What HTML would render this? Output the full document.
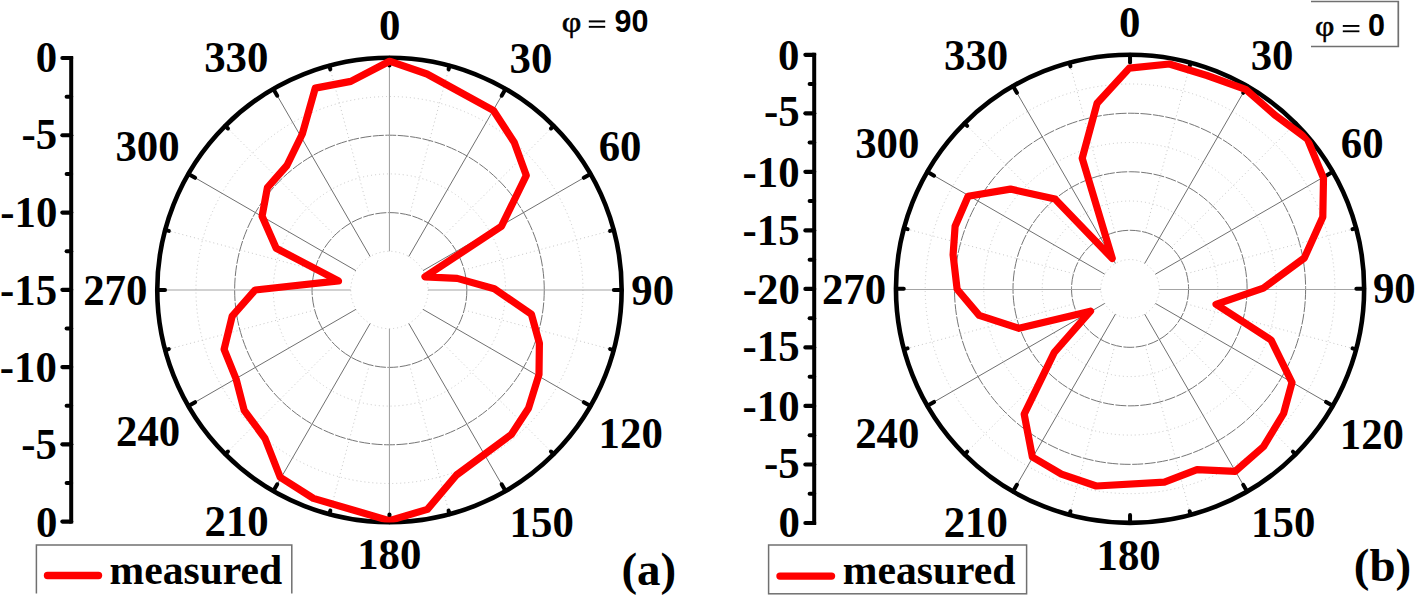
<!DOCTYPE html>
<html><head><meta charset="utf-8"><style>
html,body{margin:0;padding:0;background:#fff;}
svg{display:block;}
.lb{font-family:"Liberation Serif", serif;font-weight:bold;font-size:42.8px;fill:#000;}
.lg{font-family:"Liberation Serif", serif;font-weight:bold;font-size:41.6px;fill:#000;}
.pl{font-family:"Liberation Serif", serif;font-weight:bold;font-size:47px;fill:#000;}
.phi{font-family:"Liberation Serif", serif;font-size:32px;fill:#000;stroke:#000;stroke-width:0.6px;}
.eq{font-family:"Liberation Serif", serif;font-size:33px;fill:#000;}
.sb{font-family:"Liberation Sans", sans-serif;font-weight:bold;font-size:30.5px;fill:#000;}
</style></head><body>
<svg width="1416" height="597" viewBox="0 0 1416 597">
<rect width="1416" height="597" fill="#fff"/>
<circle cx="389.45" cy="290" r="38.7" fill="none" stroke="#c8c8c8" stroke-width="1" stroke-dasharray="1 3"/>
<circle cx="389.45" cy="290" r="77.4" fill="none" stroke="#767676" stroke-width="1" stroke-dasharray="11 1.5"/>
<circle cx="389.45" cy="290" r="116.1" fill="none" stroke="#c8c8c8" stroke-width="1" stroke-dasharray="1 3"/>
<circle cx="389.45" cy="290" r="154.8" fill="none" stroke="#767676" stroke-width="1" stroke-dasharray="11 1.5"/>
<circle cx="389.45" cy="290" r="193.5" fill="none" stroke="#c8c8c8" stroke-width="1" stroke-dasharray="1 3"/>
<line x1="389.45" y1="251.3" x2="389.45" y2="57.8" stroke="#a4a4a4" stroke-width="1.1"/>
<line x1="409.48" y1="215.24" x2="449.55" y2="65.71" stroke="#c8c8c8" stroke-width="1" stroke-dasharray="1 3"/>
<line x1="408.8" y1="256.48" x2="505.55" y2="88.91" stroke="#707070" stroke-width="1"/>
<line x1="444.18" y1="235.27" x2="553.64" y2="125.81" stroke="#c8c8c8" stroke-width="1" stroke-dasharray="1 3"/>
<line x1="422.97" y1="270.65" x2="590.54" y2="173.9" stroke="#707070" stroke-width="1"/>
<line x1="464.21" y1="269.97" x2="613.74" y2="229.9" stroke="#c8c8c8" stroke-width="1" stroke-dasharray="1 3"/>
<line x1="428.15" y1="290" x2="621.65" y2="290" stroke="#a4a4a4" stroke-width="1.1"/>
<line x1="464.21" y1="310.03" x2="613.74" y2="350.1" stroke="#c8c8c8" stroke-width="1" stroke-dasharray="1 3"/>
<line x1="422.97" y1="309.35" x2="590.54" y2="406.1" stroke="#707070" stroke-width="1"/>
<line x1="444.18" y1="344.73" x2="553.64" y2="454.19" stroke="#c8c8c8" stroke-width="1" stroke-dasharray="1 3"/>
<line x1="408.8" y1="323.52" x2="505.55" y2="491.09" stroke="#707070" stroke-width="1"/>
<line x1="409.48" y1="364.76" x2="449.55" y2="514.29" stroke="#c8c8c8" stroke-width="1" stroke-dasharray="1 3"/>
<line x1="389.45" y1="328.7" x2="389.45" y2="522.2" stroke="#a4a4a4" stroke-width="1.1"/>
<line x1="369.42" y1="364.76" x2="329.35" y2="514.29" stroke="#c8c8c8" stroke-width="1" stroke-dasharray="1 3"/>
<line x1="370.1" y1="323.52" x2="273.35" y2="491.09" stroke="#707070" stroke-width="1"/>
<line x1="334.72" y1="344.73" x2="225.26" y2="454.19" stroke="#c8c8c8" stroke-width="1" stroke-dasharray="1 3"/>
<line x1="355.93" y1="309.35" x2="188.36" y2="406.1" stroke="#707070" stroke-width="1"/>
<line x1="314.69" y1="310.03" x2="165.16" y2="350.1" stroke="#c8c8c8" stroke-width="1" stroke-dasharray="1 3"/>
<line x1="350.75" y1="290" x2="157.25" y2="290" stroke="#a4a4a4" stroke-width="1.1"/>
<line x1="314.69" y1="269.97" x2="165.16" y2="229.9" stroke="#c8c8c8" stroke-width="1" stroke-dasharray="1 3"/>
<line x1="355.93" y1="270.65" x2="188.36" y2="173.9" stroke="#707070" stroke-width="1"/>
<line x1="334.72" y1="235.27" x2="225.26" y2="125.81" stroke="#c8c8c8" stroke-width="1" stroke-dasharray="1 3"/>
<line x1="370.1" y1="256.48" x2="273.35" y2="88.91" stroke="#707070" stroke-width="1"/>
<line x1="369.42" y1="215.24" x2="329.35" y2="65.71" stroke="#c8c8c8" stroke-width="1" stroke-dasharray="1 3"/>
<circle cx="389.45" cy="290" r="232.2" fill="none" stroke="#000" stroke-width="4.6"/>
<line x1="389.45" y1="57.8" x2="389.45" y2="65.6" stroke="#000" stroke-width="4" stroke-linecap="round"/>
<line x1="449.55" y1="65.71" x2="448.56" y2="69.38" stroke="#000" stroke-width="4" stroke-linecap="round"/>
<line x1="505.55" y1="88.91" x2="501.65" y2="95.66" stroke="#000" stroke-width="4" stroke-linecap="round"/>
<line x1="553.64" y1="125.81" x2="550.95" y2="128.5" stroke="#000" stroke-width="4" stroke-linecap="round"/>
<line x1="590.54" y1="173.9" x2="583.79" y2="177.8" stroke="#000" stroke-width="4" stroke-linecap="round"/>
<line x1="613.74" y1="229.9" x2="610.07" y2="230.89" stroke="#000" stroke-width="4" stroke-linecap="round"/>
<line x1="621.65" y1="290" x2="613.85" y2="290" stroke="#000" stroke-width="4" stroke-linecap="round"/>
<line x1="613.74" y1="350.1" x2="610.07" y2="349.11" stroke="#000" stroke-width="4" stroke-linecap="round"/>
<line x1="590.54" y1="406.1" x2="583.79" y2="402.2" stroke="#000" stroke-width="4" stroke-linecap="round"/>
<line x1="553.64" y1="454.19" x2="550.95" y2="451.5" stroke="#000" stroke-width="4" stroke-linecap="round"/>
<line x1="505.55" y1="491.09" x2="501.65" y2="484.34" stroke="#000" stroke-width="4" stroke-linecap="round"/>
<line x1="449.55" y1="514.29" x2="448.56" y2="510.62" stroke="#000" stroke-width="4" stroke-linecap="round"/>
<line x1="389.45" y1="522.2" x2="389.45" y2="514.4" stroke="#000" stroke-width="4" stroke-linecap="round"/>
<line x1="329.35" y1="514.29" x2="330.34" y2="510.62" stroke="#000" stroke-width="4" stroke-linecap="round"/>
<line x1="273.35" y1="491.09" x2="277.25" y2="484.34" stroke="#000" stroke-width="4" stroke-linecap="round"/>
<line x1="225.26" y1="454.19" x2="227.95" y2="451.5" stroke="#000" stroke-width="4" stroke-linecap="round"/>
<line x1="188.36" y1="406.1" x2="195.11" y2="402.2" stroke="#000" stroke-width="4" stroke-linecap="round"/>
<line x1="165.16" y1="350.1" x2="168.83" y2="349.11" stroke="#000" stroke-width="4" stroke-linecap="round"/>
<line x1="157.25" y1="290" x2="165.05" y2="290" stroke="#000" stroke-width="4" stroke-linecap="round"/>
<line x1="165.16" y1="229.9" x2="168.83" y2="230.89" stroke="#000" stroke-width="4" stroke-linecap="round"/>
<line x1="188.36" y1="173.9" x2="195.11" y2="177.8" stroke="#000" stroke-width="4" stroke-linecap="round"/>
<line x1="225.26" y1="125.81" x2="227.95" y2="128.5" stroke="#000" stroke-width="4" stroke-linecap="round"/>
<line x1="273.35" y1="88.91" x2="277.25" y2="95.66" stroke="#000" stroke-width="4" stroke-linecap="round"/>
<line x1="329.35" y1="65.71" x2="330.34" y2="69.38" stroke="#000" stroke-width="4" stroke-linecap="round"/>
<clipPath id="clipA"><circle cx="389.45" cy="290" r="232.4"/></clipPath>
<path d="M389.5,61.2 L427,74 L493.3,110.3 L514.3,142.5 L526.3,175.4 L501.5,226.2 L425,276.8 L457.2,278.4 L494.3,288.8 L531.4,314.2 L539.4,343.3 L539,374.5 L528.5,408.2 L511.5,434.3 L456.5,475 L427.4,509.4 L389.3,520.6 L313.4,498.4 L280.2,477.3 L265,438.5 L244.2,410.3 L236.1,379 L224.1,349.3 L232.2,316.1 L255.2,290 L338.5,280.9 L276.2,248.3 L262.1,216.2 L267.4,187.6 L286.9,165.5 L302.3,134 L315.3,88.1 L350.8,81.4 Z" clip-path="url(#clipA)" fill="none" stroke="#ff0000" stroke-width="7.2" stroke-linejoin="round" stroke-linecap="round"/>
<text transform="matrix(1,0,0,1.03,389.8,39.6)" text-anchor="middle" class="lb">0</text>
<text transform="matrix(1,0,0,1.03,531,73.2)" text-anchor="middle" class="lb">30</text>
<text transform="matrix(1,0,0,1.03,620.1,161)" text-anchor="middle" class="lb">60</text>
<text transform="matrix(1,0,0,1.03,652.7,304.8)" text-anchor="middle" class="lb">90</text>
<text transform="matrix(1,0,0,1.03,630.7,448.2)" text-anchor="middle" class="lb">120</text>
<text transform="matrix(1,0,0,1.03,541.7,537)" text-anchor="middle" class="lb">150</text>
<text transform="matrix(1,0,0,1.03,389.3,568.6)" text-anchor="middle" class="lb">180</text>
<text transform="matrix(1,0,0,1.03,236.6,536.2)" text-anchor="middle" class="lb">210</text>
<text transform="matrix(1,0,0,1.03,148.1,446.4)" text-anchor="middle" class="lb">240</text>
<text transform="matrix(1,0,0,1.03,115.3,304.6)" text-anchor="middle" class="lb">270</text>
<text transform="matrix(1,0,0,1.03,147.5,161)" text-anchor="middle" class="lb">300</text>
<text transform="matrix(1,0,0,1.03,236.3,72)" text-anchor="middle" class="lb">330</text>
<line x1="71.2" y1="56" x2="71.2" y2="523.6" stroke="#000" stroke-width="4"/>
<line x1="62.4" y1="58" x2="71.2" y2="58" stroke="#000" stroke-width="4.2" stroke-linecap="round"/>
<text transform="matrix(1,0,0,1.03,57.2,72.2)" text-anchor="end" class="lb">0</text>
<line x1="66.6" y1="96.63" x2="71.2" y2="96.63" stroke="#000" stroke-width="4" stroke-linecap="round"/>
<line x1="62.4" y1="135.27" x2="71.2" y2="135.27" stroke="#000" stroke-width="4.2" stroke-linecap="round"/>
<text transform="matrix(1,0,0,1.03,57.2,149.47)" text-anchor="end" class="lb">-5</text>
<line x1="66.6" y1="173.9" x2="71.2" y2="173.9" stroke="#000" stroke-width="4" stroke-linecap="round"/>
<line x1="62.4" y1="212.53" x2="71.2" y2="212.53" stroke="#000" stroke-width="4.2" stroke-linecap="round"/>
<text transform="matrix(1,0,0,1.03,57.3,226.93)" text-anchor="end" class="lb">-10</text>
<line x1="66.6" y1="251.17" x2="71.2" y2="251.17" stroke="#000" stroke-width="4" stroke-linecap="round"/>
<line x1="62.4" y1="289.8" x2="71.2" y2="289.8" stroke="#000" stroke-width="4.2" stroke-linecap="round"/>
<text transform="matrix(1,0,0,1.03,57.1,304.7)" text-anchor="end" class="lb">-15</text>
<line x1="66.6" y1="328.43" x2="71.2" y2="328.43" stroke="#000" stroke-width="4" stroke-linecap="round"/>
<line x1="62.4" y1="367.07" x2="71.2" y2="367.07" stroke="#000" stroke-width="4.2" stroke-linecap="round"/>
<text transform="matrix(1,0,0,1.03,56.9,382.27)" text-anchor="end" class="lb">-10</text>
<line x1="66.6" y1="405.7" x2="71.2" y2="405.7" stroke="#000" stroke-width="4" stroke-linecap="round"/>
<line x1="62.4" y1="444.33" x2="71.2" y2="444.33" stroke="#000" stroke-width="4.2" stroke-linecap="round"/>
<text transform="matrix(1,0,0,1.03,56.9,459.23)" text-anchor="end" class="lb">-5</text>
<line x1="66.6" y1="482.97" x2="71.2" y2="482.97" stroke="#000" stroke-width="4" stroke-linecap="round"/>
<line x1="62.4" y1="521.6" x2="71.2" y2="521.6" stroke="#000" stroke-width="4.2" stroke-linecap="round"/>
<text transform="matrix(1,0,0,1.03,57.3,536.6)" text-anchor="end" class="lb">0</text>
<circle cx="1130.05" cy="288.8" r="29.26" fill="none" stroke="#c8c8c8" stroke-width="1" stroke-dasharray="1 3"/>
<circle cx="1130.05" cy="288.8" r="58.52" fill="none" stroke="#767676" stroke-width="1" stroke-dasharray="11 1.5"/>
<circle cx="1130.05" cy="288.8" r="87.79" fill="none" stroke="#c8c8c8" stroke-width="1" stroke-dasharray="1 3"/>
<circle cx="1130.05" cy="288.8" r="117.05" fill="none" stroke="#767676" stroke-width="1" stroke-dasharray="11 1.5"/>
<circle cx="1130.05" cy="288.8" r="146.31" fill="none" stroke="#c8c8c8" stroke-width="1" stroke-dasharray="1 3"/>
<circle cx="1130.05" cy="288.8" r="175.57" fill="none" stroke="#767676" stroke-width="1" stroke-dasharray="11 1.5"/>
<circle cx="1130.05" cy="288.8" r="204.84" fill="none" stroke="#c8c8c8" stroke-width="1" stroke-dasharray="1 3"/>
<line x1="1145.2" y1="232.27" x2="1190.64" y2="62.68" stroke="#c8c8c8" stroke-width="1" stroke-dasharray="1 3"/>
<line x1="1144.68" y1="263.46" x2="1247.1" y2="86.06" stroke="#707070" stroke-width="1"/>
<line x1="1171.43" y1="247.42" x2="1295.58" y2="123.27" stroke="#c8c8c8" stroke-width="1" stroke-dasharray="1 3"/>
<line x1="1155.39" y1="274.17" x2="1332.79" y2="171.75" stroke="#707070" stroke-width="1"/>
<line x1="1186.58" y1="273.65" x2="1356.17" y2="228.21" stroke="#c8c8c8" stroke-width="1" stroke-dasharray="1 3"/>
<line x1="1159.31" y1="289.5" x2="1364.15" y2="289.5" stroke="#a4a4a4" stroke-width="1.1"/>
<line x1="1186.58" y1="303.95" x2="1356.17" y2="349.39" stroke="#c8c8c8" stroke-width="1" stroke-dasharray="1 3"/>
<line x1="1155.39" y1="303.43" x2="1332.79" y2="405.85" stroke="#707070" stroke-width="1"/>
<line x1="1171.43" y1="330.18" x2="1295.58" y2="454.33" stroke="#c8c8c8" stroke-width="1" stroke-dasharray="1 3"/>
<line x1="1144.68" y1="314.14" x2="1247.1" y2="491.54" stroke="#707070" stroke-width="1"/>
<line x1="1145.2" y1="345.33" x2="1190.64" y2="514.92" stroke="#c8c8c8" stroke-width="1" stroke-dasharray="1 3"/>
<line x1="1114.9" y1="345.33" x2="1069.46" y2="514.92" stroke="#c8c8c8" stroke-width="1" stroke-dasharray="1 3"/>
<line x1="1115.42" y1="314.14" x2="1013" y2="491.54" stroke="#707070" stroke-width="1"/>
<line x1="1088.67" y1="330.18" x2="964.52" y2="454.33" stroke="#c8c8c8" stroke-width="1" stroke-dasharray="1 3"/>
<line x1="1104.71" y1="303.43" x2="927.31" y2="405.85" stroke="#707070" stroke-width="1"/>
<line x1="1073.52" y1="303.95" x2="903.93" y2="349.39" stroke="#c8c8c8" stroke-width="1" stroke-dasharray="1 3"/>
<line x1="1100.79" y1="289.5" x2="895.95" y2="289.5" stroke="#a4a4a4" stroke-width="1.1"/>
<line x1="1073.52" y1="273.65" x2="903.93" y2="228.21" stroke="#c8c8c8" stroke-width="1" stroke-dasharray="1 3"/>
<line x1="1104.71" y1="274.17" x2="927.31" y2="171.75" stroke="#707070" stroke-width="1"/>
<line x1="1088.67" y1="247.42" x2="964.52" y2="123.27" stroke="#c8c8c8" stroke-width="1" stroke-dasharray="1 3"/>
<line x1="1115.42" y1="263.46" x2="1013" y2="86.06" stroke="#707070" stroke-width="1"/>
<line x1="1114.9" y1="232.27" x2="1069.46" y2="62.68" stroke="#c8c8c8" stroke-width="1" stroke-dasharray="1 3"/>
<circle cx="1130.05" cy="288.8" r="234.1" fill="none" stroke="#000" stroke-width="4.6"/>
<line x1="1130.05" y1="54.7" x2="1130.05" y2="62.5" stroke="#000" stroke-width="4" stroke-linecap="round"/>
<line x1="1190.64" y1="62.68" x2="1189.66" y2="66.35" stroke="#000" stroke-width="4" stroke-linecap="round"/>
<line x1="1247.1" y1="86.06" x2="1243.2" y2="92.82" stroke="#000" stroke-width="4" stroke-linecap="round"/>
<line x1="1295.58" y1="123.27" x2="1292.9" y2="125.95" stroke="#000" stroke-width="4" stroke-linecap="round"/>
<line x1="1332.79" y1="171.75" x2="1326.03" y2="175.65" stroke="#000" stroke-width="4" stroke-linecap="round"/>
<line x1="1356.17" y1="228.21" x2="1352.5" y2="229.19" stroke="#000" stroke-width="4" stroke-linecap="round"/>
<line x1="1364.15" y1="288.8" x2="1356.35" y2="288.8" stroke="#000" stroke-width="4" stroke-linecap="round"/>
<line x1="1356.17" y1="349.39" x2="1352.5" y2="348.41" stroke="#000" stroke-width="4" stroke-linecap="round"/>
<line x1="1332.79" y1="405.85" x2="1326.03" y2="401.95" stroke="#000" stroke-width="4" stroke-linecap="round"/>
<line x1="1295.58" y1="454.33" x2="1292.9" y2="451.65" stroke="#000" stroke-width="4" stroke-linecap="round"/>
<line x1="1247.1" y1="491.54" x2="1243.2" y2="484.78" stroke="#000" stroke-width="4" stroke-linecap="round"/>
<line x1="1190.64" y1="514.92" x2="1189.66" y2="511.25" stroke="#000" stroke-width="4" stroke-linecap="round"/>
<line x1="1130.05" y1="522.9" x2="1130.05" y2="515.1" stroke="#000" stroke-width="4" stroke-linecap="round"/>
<line x1="1069.46" y1="514.92" x2="1070.44" y2="511.25" stroke="#000" stroke-width="4" stroke-linecap="round"/>
<line x1="1013" y1="491.54" x2="1016.9" y2="484.78" stroke="#000" stroke-width="4" stroke-linecap="round"/>
<line x1="964.52" y1="454.33" x2="967.2" y2="451.65" stroke="#000" stroke-width="4" stroke-linecap="round"/>
<line x1="927.31" y1="405.85" x2="934.07" y2="401.95" stroke="#000" stroke-width="4" stroke-linecap="round"/>
<line x1="903.93" y1="349.39" x2="907.6" y2="348.41" stroke="#000" stroke-width="4" stroke-linecap="round"/>
<line x1="895.95" y1="288.8" x2="903.75" y2="288.8" stroke="#000" stroke-width="4" stroke-linecap="round"/>
<line x1="903.93" y1="228.21" x2="907.6" y2="229.19" stroke="#000" stroke-width="4" stroke-linecap="round"/>
<line x1="927.31" y1="171.75" x2="934.07" y2="175.65" stroke="#000" stroke-width="4" stroke-linecap="round"/>
<line x1="964.52" y1="123.27" x2="967.2" y2="125.95" stroke="#000" stroke-width="4" stroke-linecap="round"/>
<line x1="1013" y1="86.06" x2="1016.9" y2="92.82" stroke="#000" stroke-width="4" stroke-linecap="round"/>
<line x1="1069.46" y1="62.68" x2="1070.44" y2="66.35" stroke="#000" stroke-width="4" stroke-linecap="round"/>
<clipPath id="clipB"><circle cx="1130.05" cy="288.8" r="234.3"/></clipPath>
<path d="M1129.3,68.1 L1169.4,64 L1207,75.5 L1245.6,89.3 L1275.7,115.7 L1307.4,139 L1323.5,178.2 L1322.8,217 L1304.3,258 L1263.4,288.1 L1216,304.3 L1271,339.9 L1292,382.5 L1283.6,413.5 L1263.5,446.6 L1235.3,471.3 L1197,469.7 L1164.4,482.2 L1096.2,486 L1061.4,474.1 L1032.4,457 L1024.2,414.2 L1054.3,352.4 L1090.5,311.2 L1019,328.3 L979.2,315.4 L957.1,289.2 L953.1,254.8 L955.1,226.3 L968.1,196.2 L1010.4,189.1 L1055,199 L1112.3,258.5 L1082.2,158.3 L1097.1,103.3 Z" clip-path="url(#clipB)" fill="none" stroke="#ff0000" stroke-width="7.2" stroke-linejoin="round" stroke-linecap="round"/>
<text transform="matrix(1,0,0,1.03,1129.8,36.6)" text-anchor="middle" class="lb">0</text>
<text transform="matrix(1,0,0,1.03,1272.1,69.8)" text-anchor="middle" class="lb">30</text>
<text transform="matrix(1,0,0,1.03,1362.2,157.6)" text-anchor="middle" class="lb">60</text>
<text transform="matrix(1,0,0,1.03,1394.3,303.4)" text-anchor="middle" class="lb">90</text>
<text transform="matrix(1,0,0,1.03,1371.9,448.6)" text-anchor="middle" class="lb">120</text>
<text transform="matrix(1,0,0,1.03,1283.2,537.4)" text-anchor="middle" class="lb">150</text>
<text transform="matrix(1,0,0,1.03,1128.6,569.8)" text-anchor="middle" class="lb">180</text>
<text transform="matrix(1,0,0,1.03,975.8,537)" text-anchor="middle" class="lb">210</text>
<text transform="matrix(1,0,0,1.03,887.3,448)" text-anchor="middle" class="lb">240</text>
<text transform="matrix(1,0,0,1.03,854,303.6)" text-anchor="middle" class="lb">270</text>
<text transform="matrix(1,0,0,1.03,887.3,157.6)" text-anchor="middle" class="lb">300</text>
<text transform="matrix(1,0,0,1.03,976.1,69.8)" text-anchor="middle" class="lb">330</text>
<line x1="814.2" y1="52.8" x2="814.2" y2="525" stroke="#000" stroke-width="4"/>
<line x1="805.4" y1="54.8" x2="814.2" y2="54.8" stroke="#000" stroke-width="4.2" stroke-linecap="round"/>
<text transform="matrix(1,0,0,1.03,799.5,69.7)" text-anchor="end" class="lb">0</text>
<line x1="809.6" y1="84.06" x2="814.2" y2="84.06" stroke="#000" stroke-width="4" stroke-linecap="round"/>
<line x1="805.4" y1="113.32" x2="814.2" y2="113.32" stroke="#000" stroke-width="4.2" stroke-linecap="round"/>
<text transform="matrix(1,0,0,1.03,799.6,126.42)" text-anchor="end" class="lb">-5</text>
<line x1="809.6" y1="142.59" x2="814.2" y2="142.59" stroke="#000" stroke-width="4" stroke-linecap="round"/>
<line x1="805.4" y1="171.85" x2="814.2" y2="171.85" stroke="#000" stroke-width="4.2" stroke-linecap="round"/>
<text transform="matrix(1,0,0,1.03,799.6,186.75)" text-anchor="end" class="lb">-10</text>
<line x1="809.6" y1="201.11" x2="814.2" y2="201.11" stroke="#000" stroke-width="4" stroke-linecap="round"/>
<line x1="805.4" y1="230.38" x2="814.2" y2="230.38" stroke="#000" stroke-width="4.2" stroke-linecap="round"/>
<text transform="matrix(1,0,0,1.03,799.6,245.28)" text-anchor="end" class="lb">-15</text>
<line x1="809.6" y1="259.64" x2="814.2" y2="259.64" stroke="#000" stroke-width="4" stroke-linecap="round"/>
<line x1="805.4" y1="288.9" x2="814.2" y2="288.9" stroke="#000" stroke-width="4.2" stroke-linecap="round"/>
<text transform="matrix(1,0,0,1.03,799.9,303.8)" text-anchor="end" class="lb">-20</text>
<line x1="809.6" y1="318.16" x2="814.2" y2="318.16" stroke="#000" stroke-width="4" stroke-linecap="round"/>
<line x1="805.4" y1="347.43" x2="814.2" y2="347.43" stroke="#000" stroke-width="4.2" stroke-linecap="round"/>
<text transform="matrix(1,0,0,1.03,799.6,361.32)" text-anchor="end" class="lb">-15</text>
<line x1="809.6" y1="376.69" x2="814.2" y2="376.69" stroke="#000" stroke-width="4" stroke-linecap="round"/>
<line x1="805.4" y1="405.95" x2="814.2" y2="405.95" stroke="#000" stroke-width="4.2" stroke-linecap="round"/>
<text transform="matrix(1,0,0,1.03,799.6,420.85)" text-anchor="end" class="lb">-10</text>
<line x1="809.6" y1="435.21" x2="814.2" y2="435.21" stroke="#000" stroke-width="4" stroke-linecap="round"/>
<line x1="805.4" y1="464.48" x2="814.2" y2="464.48" stroke="#000" stroke-width="4.2" stroke-linecap="round"/>
<text transform="matrix(1,0,0,1.03,799.6,477.98)" text-anchor="end" class="lb">-5</text>
<line x1="809.6" y1="493.74" x2="814.2" y2="493.74" stroke="#000" stroke-width="4" stroke-linecap="round"/>
<line x1="805.4" y1="523" x2="814.2" y2="523" stroke="#000" stroke-width="4.2" stroke-linecap="round"/>
<text transform="matrix(1,0,0,1.03,800,537.4)" text-anchor="end" class="lb">0</text>
<text transform="matrix(1.06,0,0,0.93,561.8,31.6)" class="phi">&#966;</text>
<rect x="588.8" y="20.4" width="16.4" height="2" fill="#000"/>
<rect x="588.8" y="25.9" width="16.4" height="1.9" fill="#000"/>
<text x="614.5" y="32.2" class="sb">90</text>
<polyline points="1311,1.5 1398.3,1.5 1398.3,46.5 1311,46.5" fill="none" stroke="#707070" stroke-width="1.7"/>
<text transform="matrix(1.05,0,0,0.95,1315,35.8)" class="phi">&#966;</text>
<rect x="1342.8" y="25" width="16.6" height="1.9" fill="#000"/>
<rect x="1342.8" y="30.4" width="16.6" height="1.8" fill="#000"/>
<text x="1368" y="36.2" class="sb">0</text>
<polyline points="36.4,593.4 36.4,545 291.8,545 291.8,593.4" fill="none" stroke="#707070" stroke-width="1.5"/>
<line x1="47.5" y1="575.5" x2="98.5" y2="575.5" stroke="#ff0000" stroke-width="7.4" stroke-linecap="round"/>
<text x="109.6" y="583.6" class="lg">measured</text>
<rect x="768.6" y="545" width="258" height="48.8" fill="none" stroke="#707070" stroke-width="1.5"/>
<line x1="780" y1="576.1" x2="831.5" y2="576.1" stroke="#ff0000" stroke-width="7.4" stroke-linecap="round"/>
<text x="842.8" y="583.6" class="lg">measured</text>
<text x="621.4" y="585.4" class="pl">(a)</text>
<text x="1353.8" y="581.4" class="pl">(b)</text>
</svg>
</body></html>
